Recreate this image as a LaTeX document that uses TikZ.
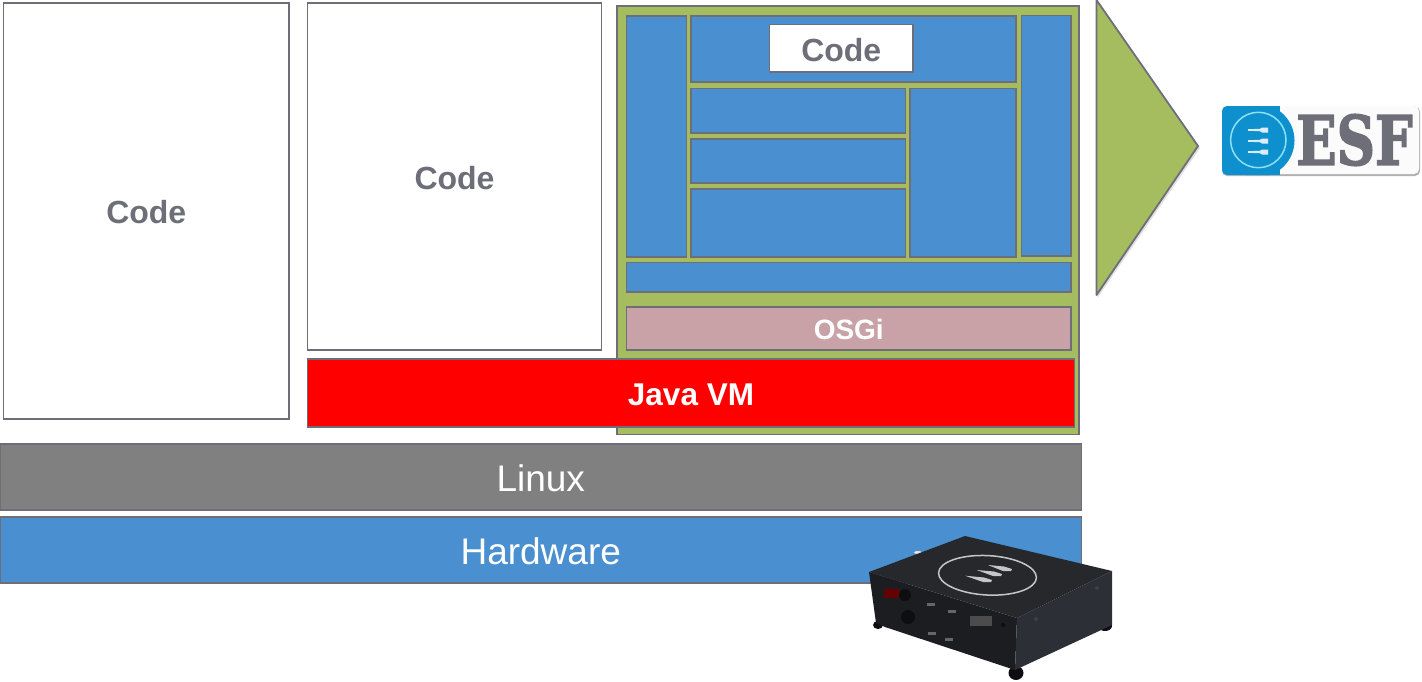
\documentclass[tikz,border=0pt]{standalone}
\usepackage{fontspec}
\setmainfont{Liberation Sans}
\newfontfamily\slabfont[BoldFeatures={FakeBold=2.5}]{DejaVu Serif}
\definecolor{edgegray}{HTML}{6D6E7A}
\definecolor{textgray}{HTML}{6D6E78}
\definecolor{boxblue}{HTML}{4A8FD0}
\definecolor{boxgreen}{HTML}{A5BD5E}
\definecolor{boxpink}{HTML}{C9A2A8}
\definecolor{linuxgray}{HTML}{808080}
\definecolor{logoblue}{HTML}{0E90CF}
\definecolor{ringcyan}{HTML}{8CE2F0}
\definecolor{devtop}{HTML}{26282B}
\definecolor{devleft}{HTML}{1C1D20}
\definecolor{devright}{HTML}{2C2F35}
\definecolor{devport}{HTML}{0E0E10}
\definecolor{devmark}{HTML}{C4C6C8}
\tikzset{
  basebox/.style={rectangle,draw=edgegray,line width=1.8pt,inner sep=0pt,outer sep=0pt},
  codebox/.style={basebox,fill=white,text=textgray,font=\bfseries\fontsize{32}{32}\selectfont},
  bluebox/.style={basebox,fill=boxblue},
  greenbox/.style={basebox,fill=boxgreen},
  osgibox/.style={basebox,fill=boxpink,text=white,font=\bfseries\fontsize{28}{28}\selectfont},
  javabox/.style={basebox,fill=red,text=white,font=\bfseries\fontsize{31.5}{31.5}\selectfont},
  linuxbox/.style={basebox,fill=linuxgray,text=white,font=\fontsize{37}{37}\selectfont},
  hwbox/.style={basebox,fill=boxblue,text=white,font=\fontsize{37}{37}\selectfont},
}
\newcommand{\bx}[7]{\node[#2,minimum width={(#5-#3)*1pt},minimum height={(#6-#4)*1pt}] (#1) at ({(#3+#5)/2},{(#4+#6)/2}) {\raisebox{-1.5pt}[\height][\depth]{#7}};}
\begin{document}
\begin{tikzpicture}[x=1pt,y=-1pt]
\useasboundingbox (0,0) rectangle (1422,681);
% left code boxes
\bx{codeA}{codebox}{3.5}{3}{289}{419}{Code}
\bx{codeB}{codebox}{307.5}{3}{601.5}{350}{Code}
% green container
\bx{green}{greenbox}{617}{6}{1079}{434.5}{}
\bx{leftcol}{bluebox}{626.5}{16}{686.5}{257}{}
\bx{top}{bluebox}{691}{16}{1016}{82}{}
\bx{codeC}{codebox}{769.5}{24.5}{913}{72}{Code}
\bx{rowA}{bluebox}{691}{88.5}{905.5}{133}{}
\bx{rowB}{bluebox}{691}{139}{905.5}{183}{}
\bx{rowC}{bluebox}{691}{189}{905.5}{257}{}
\bx{midright}{bluebox}{910}{88.5}{1016}{257}{}
\bx{rightcol}{bluebox}{1021.5}{15.5}{1071}{256}{}
\bx{bar}{bluebox}{626.5}{262.5}{1071}{292}{}
\bx{osgi}{osgibox}{626.5}{306.7}{1071}{350}{OSGi}
\bx{java}{javabox}{307.5}{359}{1074.5}{427}{Java VM}
\bx{linux}{linuxbox}{0}{444}{1081.5}{510}{Linux}
\bx{hw}{hwbox}{0}{517}{1081.5}{583}{Hardware}
% triangle
\fill[black!25,opacity=.5] (1097.5,3) -- (1200,148) -- (1097.5,298) -- cycle;
\draw[edgegray,line width=1.8pt,fill=boxgreen,line join=round] (1096.5,0) -- (1198,146) -- (1096.5,295) -- cycle;
% ESF logo
\fill[gray!60,rounded corners=5pt] (1222,106.5) rectangle (1420,176);
\fill[white!97!gray,rounded corners=5pt] (1222,106) rectangle (1419,174);
\begin{scope}
\clip[rounded corners=5pt] (1222,106) rectangle (1419,175);
\fill[logoblue] (1222,106) rectangle (1280,175);
\fill[logoblue] (1258,140.5) circle (36.5);
\end{scope}
\draw[ringcyan,line width=1.5pt] (1258.3,140) circle (27.7);
\foreach \yy in {130,141,152}{
  \fill[white!85!logoblue] (1248,\yy-0.8) -- (1260,\yy-1.2) -- (1262,\yy-2.5) -- (1268,\yy-2.5) -- (1268,\yy+2.5) -- (1262,\yy+2.5) -- (1260,\yy+1.2) -- (1248,\yy+0.8) -- cycle;
}
\node[font=\slabfont\bfseries\fontsize{68}{68}\selectfont,text=textgray,inner sep=0pt] (esf) at (1354.5,140) {\scalebox{.78}[1]{ESF}};
% device
\fill[devport] (878,625) ellipse (5 and 4);
\fill[devport] (1105,626) ellipse (7 and 5);
\fill[devport] (1016,673) ellipse (7.5 and 7);
\fill[white!90!black] (918,552.5) ellipse (4 and 1.5);
\fill[devleft,line join=round] (869,572) -- (1017,618) -- (1015,670) -- (885,627) -- (876,623) -- cycle;
\fill[devright,line join=round] (1017,618) -- (1112,571) -- (1112,625) -- (1015,670) -- cycle;
\fill[devtop,line join=round] (869,572) -- (965,536) -- (1112,571) -- (1017,618) -- cycle;
\draw[devmark,line width=1.5pt,rotate around={-3:(987.5,575.3)}] (987.5,575.3) ellipse (49 and 19.7);
\foreach \xa/\ya/\xb/\yb in {965/575.7/992/581,976.7/570/1002/575,988/565/1012/570}{
  \fill[devmark] (\xa,\ya) -- (\xb-8,\yb-3.5) -- (\xb,\yb-1) -- (\xb-1,\yb+1) -- (\xb-9,\yb+1) -- cycle;
}
\fill[red!40!black] (884,589) rectangle (899,598);
\fill[devport] (905,595) circle (6);
\fill[devport] (908,617) circle (7);
\foreach \xx/\yy in {927/603,948/610,928/632,945/638}{
  \fill[black!60!white] (\xx,\yy) rectangle (\xx+8,\yy+3);
}
\fill[gray!60!black] (970,616) rectangle (992,626);
\fill[devport] (1003,625) circle (2);
\fill[gray!50!black] (1036,619) circle (2);
\fill[gray!50!black] (1097,588) circle (2);
\end{tikzpicture}
\end{document}
